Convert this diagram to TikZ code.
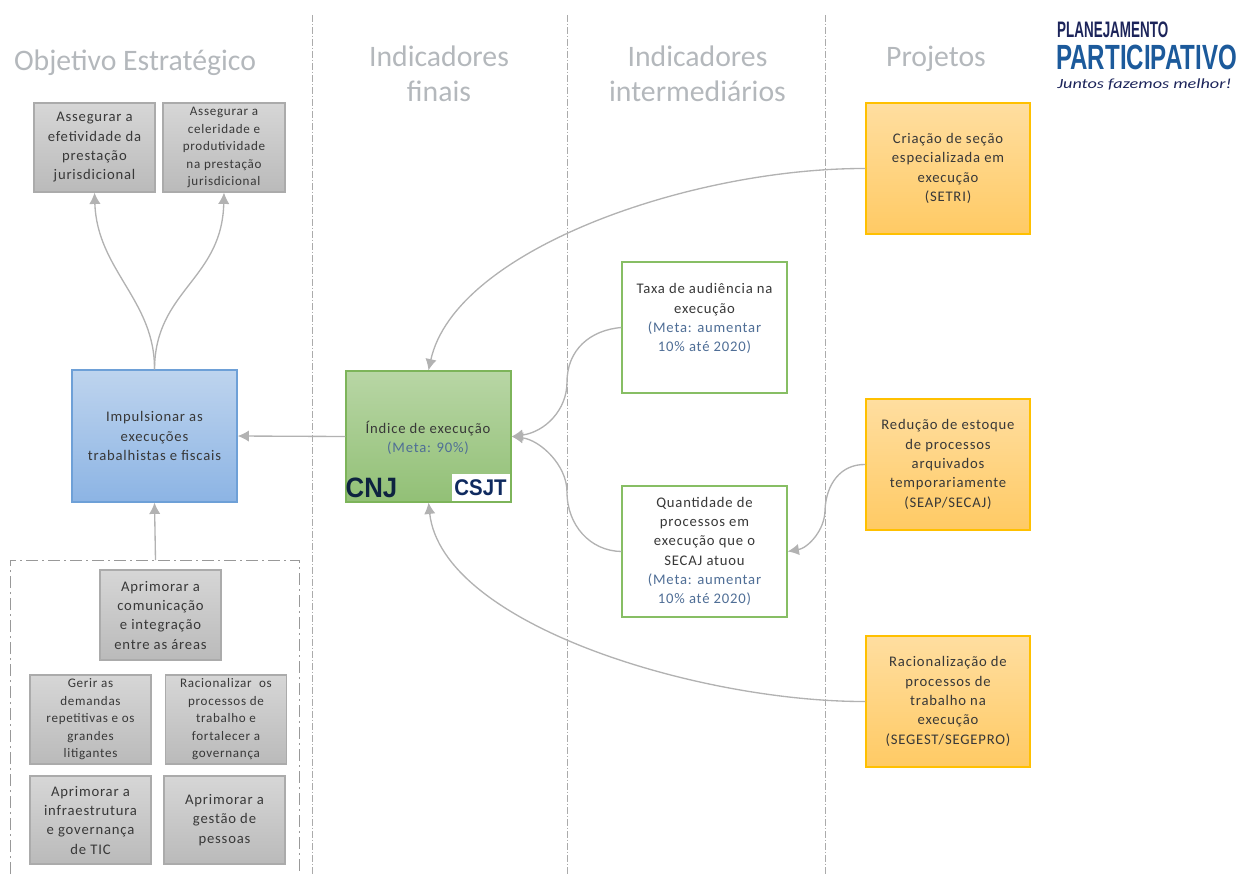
\documentclass[tikz,border=0pt]{standalone}
\usepackage{fontspec}
\setmainfont{Carlito}
\newfontfamily\bodyf[LetterSpace=5.5]{Carlito}
\newfontfamily\logofont{Liberation Sans}
\usetikzlibrary{arrows.meta}
\definecolor{titlegray}{HTML}{B4B8BC}
\definecolor{sepgray}{HTML}{ABABAB}
\definecolor{arrgray}{HTML}{B2B2B2}
\definecolor{metablue}{HTML}{4F6E96}
\definecolor{txt}{HTML}{383838}
\tikzset{
  x=0.75pt,y=-0.75pt,
  box/.style={draw,line width=0.9pt,minimum width=#1*0.75pt,align=center,inner sep=0pt,font=\bodyf\fontsize{11}{14.5}\selectfont,text=txt},
  smalltext/.style={font=\bodyf\fontsize{9.8}{13.1}\selectfont},
  greybox/.style={box=#1,draw=black!33,top color=black!16,bottom color=black!27},
  bluebox/.style={box=#1,draw={rgb,255:red,110;green,160;blue,215},top color={rgb,255:red,190;green,212;blue,238},bottom color={rgb,255:red,140;green,180;blue,228}},
  greenbox/.style={box=#1,draw={rgb,255:red,125;green,180;blue,90},top color={rgb,255:red,184;green,214;blue,165},bottom color={rgb,255:red,146;green,192;blue,118}},
  whitebox/.style={box=#1,draw={rgb,255:red,135;green,190;blue,100},fill=white},
  orangebox/.style={box=#1,draw={rgb,255:red,255;green,192;blue,0},top color={rgb,255:red,255;green,222;blue,160},bottom color={rgb,255:red,255;green,202;blue,100}},
  coltitle/.style={font=\fontsize{22.3}{26.2}\selectfont,text=titlegray,align=center,inner sep=0pt},
  sep/.style={draw=sepgray,line width=0.7pt,dash pattern=on 5pt off 1.5pt on 1pt off 1.5pt},
  conn/.style={draw=arrgray,line width=1pt,-{Latex[length=8.5pt,width=8.5pt,sep=0pt]}},
}
\begin{document}
\begin{tikzpicture}
\useasboundingbox (0,0) rectangle (1237,874);
% separators
\coordinate (s1t) at (312,15); \coordinate (s1b) at (312,874);
\coordinate (s2t) at (567,15); \coordinate (s2b) at (567,874);
\coordinate (s3t) at (825,15); \coordinate (s3b) at (825,874);
\draw[sep] (s1t) -- (s1b);
\draw[sep] (s2t) -- (s2b);
\draw[sep] (s3t) -- (s3b);
% titles
\node[coltitle] (t1) at (135,63) {Objetivo Estratégico};
\node[coltitle] (t2) at (439,74) {Indicadores\\finais};
\node[coltitle] (t3) at (697.5,74) {Indicadores\\intermediários};
\node[coltitle] (t4) at (936,59) {Projetos};
% strategic objectives
\node[greybox=121,minimum height=66.75pt] (a1) at (94.5,147.5) {Assegurar a\\efetividade da\\prestação\\jurisdicional};
\node[greybox=122,minimum height=66.75pt,smalltext] (a2) at (224,147.5) {Assegurar a\\celeridade e\\produtividade\\na prestação\\jurisdicional};
\node[bluebox=165,minimum height=99pt] (imp) at (154.5,436) {Impulsionar as\\execuções\\trabalhistas e fiscais};
% dash-dot group
\coordinate (dtop) at (155.5,560);
\draw[draw=black!40,line width=0.7pt,dash pattern=on 9pt off 3pt on 1.5pt off 3pt] (10,874) -- (10,560) -- (299,560) -- (299,874);
\node[greybox=121,minimum height=67.5pt] (g1) at (160.5,615) {Aprimorar a\\comunicação\\e integração\\entre as áreas};
\node[greybox=121,minimum height=66.75pt,smalltext] (g2) at (90.5,719.5) {Gerir as\\demandas\\repetitivas e os\\grandes\\litigantes};
\node[greybox=121,minimum height=66.75pt,smalltext] (g3) at (226,719.5) {Racionalizar\ \ os\\processos de\\trabalho e\\fortalecer a\\governança};
\node[greybox=121,minimum height=66pt] (g4) at (90.5,820) {Aprimorar a\\infraestrutura\\e governança\\de TIC};
\node[greybox=121,minimum height=66pt] (g5) at (224.5,820) {Aprimorar a\\gestão de\\pessoas};
% final indicator
\node[greenbox=165,minimum height=98.25pt] (ind) at (428.5,436.5) {};
\node[box=100,draw=none,anchor=center] (indt) at (428,438) {Índice de execução\\\textcolor{metablue}{(Meta: 90\%)}};
\node[inner sep=0pt,font=\logofont\bfseries\fontsize{21}{21}\selectfont,text={rgb,255:red,14;green,35;blue,64},anchor=center,xscale=0.92] (cnj) at (371.5,487.5) {CNJ};
\node[fill=white,minimum width=43.5pt,minimum height=20.5pt,inner sep=0pt] (csjtbg) at (480.5,487.5) {};
\node[inner sep=0pt,font=\logofont\bfseries\fontsize{17}{17}\selectfont,text={rgb,255:red,15;green,42;blue,95},xscale=0.9] (csjt) at (480.5,488) {CSJT};
% intermediate
\node[whitebox=165,minimum height=98.25pt] (w1) at (704.5,327.5) {Taxa de audiência na\\execução\\\textcolor{metablue}{(Meta: aumentar}\\\textcolor{metablue}{10\% até 2020)}\\\mbox{}};
\node[whitebox=165,minimum height=98.25pt] (w2) at (704.5,551.5) {Quantidade de\\processos em\\execução que o\\SECAJ atuou\\\textcolor{metablue}{(Meta: aumentar}\\\textcolor{metablue}{10\% até 2020)}};
% projects
\node[orangebox=164,minimum height=98.25pt] (p1) at (948,168.5) {Criação de seção\\especializada em\\execução\\(SETRI)};
\node[orangebox=164,minimum height=98.25pt] (p2) at (948,464.5) {Redução de estoque\\de processos\\arquivados\\temporariamente\\(SEAP/SECAJ)};
\node[orangebox=164,minimum height=98.25pt] (p3) at (948,701.5) {Racionalização de\\processos de\\trabalho na\\execução\\(SEGEST/SEGEPRO)};
% connectors
\draw[conn] (imp.north) .. controls (155,300) and (97,270) .. (a1.south);
\draw[conn] (imp.north) .. controls (155,290) and (222,280) .. (a2.south);
\draw[conn] (dtop) -- (imp.south);
\draw[conn] (ind.west) -- (imp.east);
\draw[conn] (p1.west) .. controls (690,168) and (455,250) .. (ind.north);
\draw[conn] (p3.west) .. controls (700,702) and (442,625) .. (ind.south);
\draw[conn] (w1.west) .. controls (590,330) and (567,350) .. (567,382) .. controls (567,410) and (545,432) .. (ind.east);
\draw[conn] (w2.west) .. controls (590,551) and (567,525) .. (567,492) .. controls (567,465) and (540,440) .. (ind.east);
\draw[conn] (p2.west) .. controls (840,464) and (826,485) .. (825,510) .. controls (825,530) and (808,548) .. (w2.east);
% logo
\node[inner sep=0pt,font=\logofont\bfseries\fontsize{14}{14}\selectfont,text={rgb,255:red,28;green,36;blue,90},xscale=0.72,yscale=1.2,anchor=west] (l1) at (1057,30) {PLANEJAMENTO};
\node[inner sep=0pt,font=\logofont\bfseries\fontsize{21}{21}\selectfont,text={rgb,255:red,28;green,90;blue,155},xscale=0.86,yscale=1.25,anchor=west] (l2) at (1056,57) {PARTICIPATIVO};
\node[inner sep=0pt,font=\itshape\fontsize{10.5}{10.5}\selectfont,text={rgb,255:red,28;green,36;blue,90},anchor=west,xscale=1.3] (l3) at (1057,84) {Juntos fazemos melhor!};
\end{tikzpicture}
\end{document}
